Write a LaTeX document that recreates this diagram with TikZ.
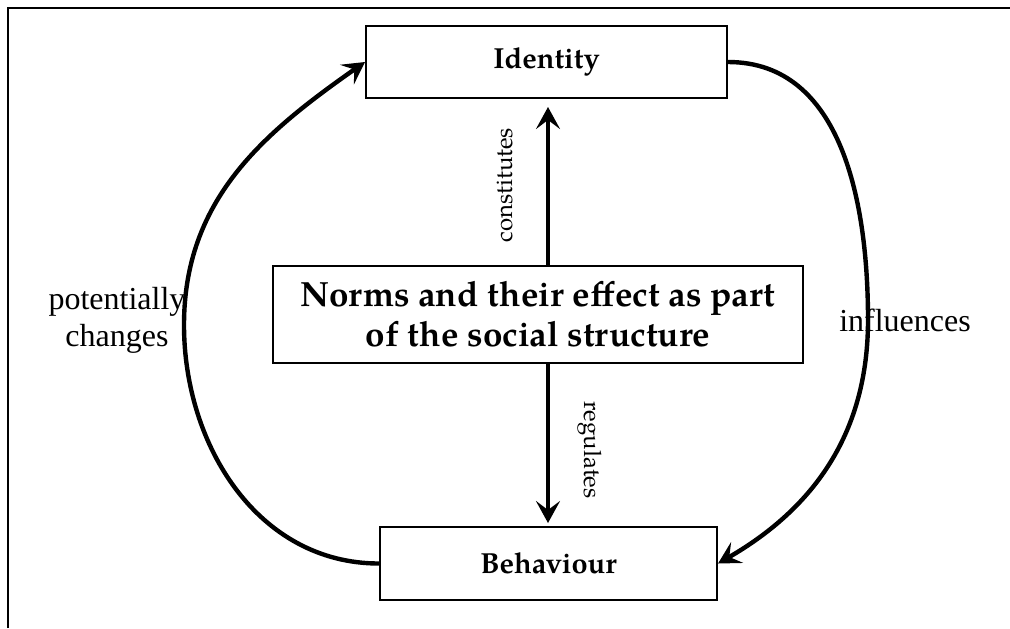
\documentclass[tikz,border=0pt]{standalone}
\usepackage{fontspec}
\setmainfont{Liberation Serif}
\newfontfamily\pala{TeX Gyre Pagella}
\usepackage{tikz}
\usetikzlibrary{arrows.meta}

\begin{document}
\begin{tikzpicture}[
x=0.5pt, y=-0.5pt,
boxnode/.style={draw=black, line width=1pt, inner sep=0pt, align=center, font=\pala\bfseries},
flowline/.style={line width=2.2pt, -{Stealth[length=11pt,width=12pt,inset=4.5pt]}},
sidetext/.style={font=\fontsize{16}{18.5}\selectfont, align=center},
rottext/.style={font=\pala\fontsize{12}{14}\selectfont}
]
        \useasboundingbox (0,0) rectangle (1010,628);
        \draw [line width=1.2pt] (8,628) -- (8,8) -- (1010,8);

        \node [boxnode,minimum width=180.5pt,minimum height=36pt,font=\pala\bfseries\fontsize{14.5}{17}\selectfont] (id) at (546.5, 62) {Identity};
        \node [boxnode,minimum width=265pt,minimum height=48.5pt,font=\pala\bfseries\fontsize{17.5}{20}\selectfont] (norms) at (538, 314.5) {Norms and their effect as part\\of the social structure};
        \node [boxnode,minimum width=168.5pt,minimum height=36.5pt,font=\pala\bfseries\fontsize{14.5}{17}\selectfont] (beh) at (548.5, 563.5) {Behaviour};

        \coordinate (ctip) at (548, 107);
        \coordinate (rtip) at (548, 523);
        \coordinate (lmid) at (184, 325);
        \coordinate (rmid) at (868, 320);

        \draw [flowline] (ctip |- norms.north) -- (ctip);
        \draw [flowline] (rtip |- norms.south) -- (rtip);
        \draw [flowline] (beh.west) to[out=180,in=-90] (lmid) to[out=90,in=215] (id.west);
        \draw [flowline] (id.east) to[out=0,in=90] (rmid) to[out=-90,in=30] (beh.east);

        \node [rottext,rotate=90] (const) at (505, 185) {constitutes};
        \node [rottext,rotate=-90] (reg) at (590, 450) {regulates};
        \node [sidetext] (pot) at (117, 320) {potentially\\changes};
        \node [sidetext] (infl) at (905, 320) {influences};
\end{tikzpicture}
\end{document}
